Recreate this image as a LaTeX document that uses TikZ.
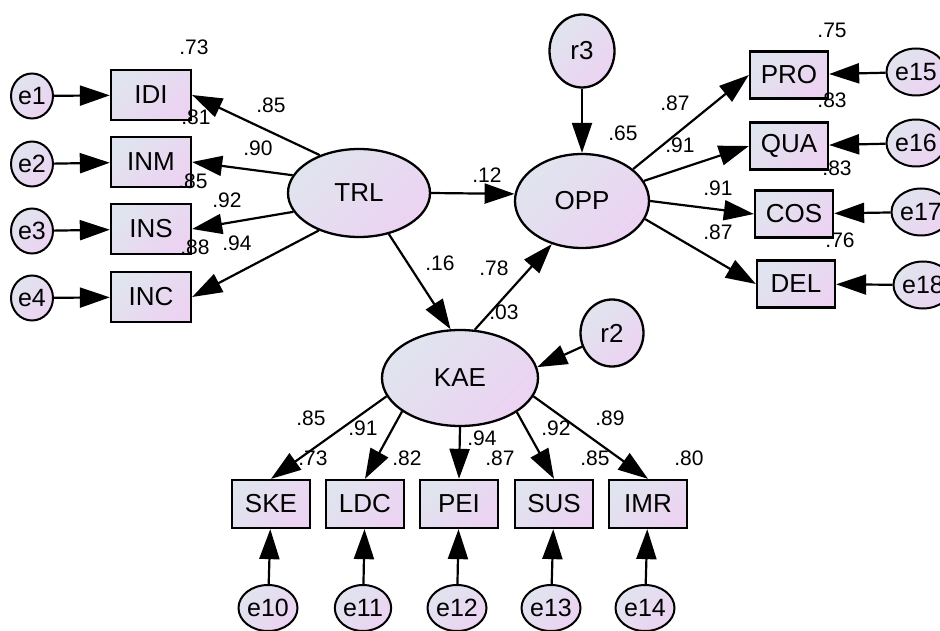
\documentclass[tikz,border=0pt]{standalone}
\usepackage{fontspec}
\setmainfont{Liberation Sans}
\usetikzlibrary{shapes.geometric,arrows.meta}
\definecolor{gA}{RGB}{224,228,238}
\definecolor{gB}{RGB}{236,211,242}
\tikzset{
  shadefill/.style={top color=gA, bottom color=gB, shading angle=45},
  obsbox/.style={rectangle, draw=black, line width=2.3pt, shadefill, minimum width=80pt, minimum height=50pt, inner sep=0pt, font=\fontsize{26}{30}\selectfont},
  obsboxs/.style={obsbox, minimum width=78pt, minimum height=47pt},
  latent/.style={ellipse, draw=black, line width=2.3pt, shadefill, inner sep=0pt, font=\fontsize{26}{30}\selectfont},
  errc/.style={ellipse, draw=black, line width=2pt, shadefill, minimum width=42pt, minimum height=45pt, inner sep=0pt, font=\fontsize{25}{29}\selectfont},
  arr/.style={draw=black, line width=2.2pt, -{Triangle[length=30pt,width=20pt]}},
  coef/.style={font=\fontsize{21}{25}\selectfont, inner sep=0pt},
}
\begin{document}
\begin{tikzpicture}[x=1pt,y=-1pt]
\useasboundingbox (0,0) rectangle (940,631);
% latent variables
\node[latent, minimum width=142pt, minimum height=88pt] (TRL) at (359,193) {TRL};
\node[latent, minimum width=134pt, minimum height=94pt] (OPP) at (582,201) {OPP};
\node[latent, minimum width=156pt, minimum height=96pt] (KAE) at (460,378) {KAE};
\node[latent, minimum width=65pt, minimum height=73pt] (r3) at (582,51) {r3};
\node[latent, minimum width=63pt, minimum height=67pt] (r2) at (612,333) {r2};
% left indicators
\node[obsbox] (IDI) at (151,95) {IDI};
\node[obsbox] (INM) at (151,162) {INM};
\node[obsbox] (INS) at (151,229) {INS};
\node[obsbox] (INC) at (151,297) {INC};
\node[errc] (e1) at (32,96) {e1};
\node[errc] (e2) at (32,164) {e2};
\node[errc] (e3) at (32,231) {e3};
\node[errc] (e4) at (32,298) {e4};
% right indicators
\node[obsboxs] (PRO) at (789,75) {PRO};
\node[obsboxs] (QUA) at (789,146) {QUA};
\node[obsboxs] (COS) at (794,214) {COS};
\node[obsboxs] (DEL) at (796,284) {DEL};
\node[errc, minimum height=47pt] (e15) at (916,72) {e15};
\node[errc, minimum height=47pt] (e16) at (916,143) {e16};
\node[errc, minimum height=47pt] (e17) at (921,212) {e17};
\node[errc, minimum height=47pt] (e18) at (923,285) {e18};
% bottom indicators
\node[obsboxs, minimum height=48pt] (SKE) at (271,504) {SKE};
\node[obsboxs, minimum height=48pt] (LDC) at (365,504) {LDC};
\node[obsboxs, minimum height=48pt] (PEI) at (459,504) {PEI};
\node[obsboxs, minimum height=48pt] (SUS) at (554,504) {SUS};
\node[obsboxs, minimum height=48pt] (IMR) at (648,504) {IMR};
\node[errc, minimum width=43pt, minimum height=46pt] (e10) at (268,608) {e10};
\node[errc, minimum width=43pt, minimum height=46pt] (e11) at (363,608) {e11};
\node[errc, minimum width=43pt, minimum height=46pt] (e12) at (457,608) {e12};
\node[errc, minimum width=43pt, minimum height=46pt] (e13) at (551,608) {e13};
\node[errc, minimum width=43pt, minimum height=46pt] (e14) at (645,608) {e14};
% structural paths
\draw[arr] (TRL.east) -- (OPP.174);
\draw[arr] (TRL.306) -- (KAE.101);
\draw[arr] (KAE.73) -- (OPP.235);
\draw[arr] (r3) -- (OPP);
\draw[arr] (r2) -- (KAE.8);
% TRL loadings
\draw[arr] (TRL.136) -- (IDI.east);
\draw[arr] (TRL.165) -- (INM.east);
\draw[arr] (TRL.196) -- (INS.east);
\draw[arr] (TRL.223) -- (INC.east);
\draw[arr] (e1) -- (IDI);
\draw[arr] (e2) -- (INM);
\draw[arr] (e3) -- (INS);
\draw[arr] (e4) -- (INC);
% OPP loadings
\draw[arr] (OPP.32) -- (PRO.west);
\draw[arr] (OPP.18) -- (QUA.west);
\draw[arr] (OPP.0) -- (COS.west);
\draw[arr] (OPP.-16) -- (DEL.west);
\draw[arr] (e15) -- (PRO);
\draw[arr] (e16) -- (QUA);
\draw[arr] (e17) -- (COS);
\draw[arr] (e18) -- (DEL);
% KAE loadings
\draw[arr] (KAE.194) -- (SKE.north);
\draw[arr] (KAE.210) -- (LDC.north);
\draw[arr] (KAE.270) -- (PEI.north);
\draw[arr] (KAE.329) -- (SUS.north);
\draw[arr] (KAE.346) -- (IMR.north);
\draw[arr] (e10) -- (SKE);
\draw[arr] (e11) -- (LDC);
\draw[arr] (e12) -- (PEI);
\draw[arr] (e13) -- (SUS);
\draw[arr] (e14) -- (IMR);
% coefficients
\node[coef] (c1) at (194,47) {.73};
\node[coef] (c2) at (271,105) {.85};
\node[coef] (c3) at (196,117) {.81};
\node[coef] (c4) at (258,148) {.90};
\node[coef] (c5) at (193,181) {.85};
\node[coef] (c6) at (227,200) {.92};
\node[coef] (c7) at (195,247) {.88};
\node[coef] (c8) at (237,243) {.94};
\node[coef] (c9) at (487,175) {.12};
\node[coef] (c10) at (623,133) {.65};
\node[coef] (c11) at (440,263) {.16};
\node[coef] (c12) at (494,268) {.78};
\node[coef] (c13) at (504,312) {.03};
\node[coef] (c14) at (675,103) {.87};
\node[coef] (c15) at (680,145) {.91};
\node[coef] (c16) at (718,188) {.91};
\node[coef] (c17) at (718,232) {.87};
\node[coef] (c18) at (832,30) {.75};
\node[coef] (c19) at (832,100) {.83};
\node[coef] (c20) at (837,168) {.83};
\node[coef] (c21) at (840,240) {.76};
\node[coef] (c22) at (311,418) {.85};
\node[coef] (c23) at (313,458) {.73};
\node[coef] (c24) at (363,428) {.91};
\node[coef] (c25) at (407,458) {.82};
\node[coef] (c26) at (482,438) {.94};
\node[coef] (c27) at (500,458) {.87};
\node[coef] (c28) at (556,428) {.92};
\node[coef] (c29) at (595,458) {.85};
\node[coef] (c30) at (610,418) {.89};
\node[coef] (c31) at (689,458) {.80};
\end{tikzpicture}
\end{document}
